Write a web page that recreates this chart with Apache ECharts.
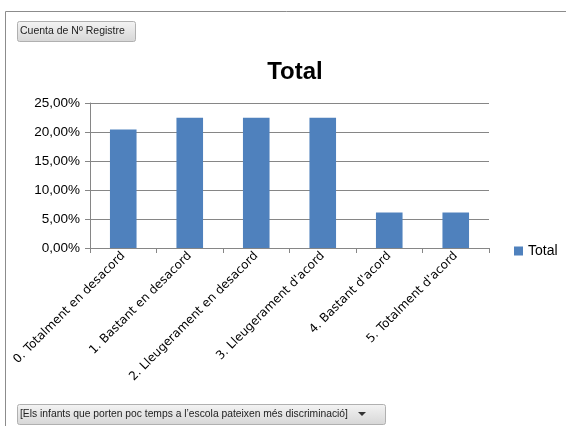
<!DOCTYPE html>
<html><head><meta charset="utf-8">
<script src="https://cdn.jsdelivr.net/npm/echarts@6/dist/echarts.min.js"></script>
<style>html,body{margin:0;padding:0;background:#fff}#c{width:566px;height:426px}</style>
</head><body><div id="c"></div>
<script>
const categories = ["0. Totalment en desacord","1. Bastant en desacord","2. Lleugerament en desacord","3. Lleugerament d'acord","4. Bastant d'acord","5. Totalment d'acord"];
const totalValues = [20.41, 22.45, 22.45, 22.45, 6.12, 6.12];
const yTicks = [0, 5, 10, 15, 20, 25];
const seriesName = "Total";
const titleText = "Total";
const fieldButton = "Cuenta de Nº Registre";
const filterButton = "[Els infants que porten poc temps a l’escola pateixen més discriminació]";

const chart = echarts.init(document.getElementById('c'), null, {renderer:'canvas'});
const btnGrad = new echarts.graphic.LinearGradient(0,0,0,1,[{offset:0,color:'#f4f4f4'},{offset:1,color:'#d6d6d6'}]);
const narrow = "'Liberation Sans Narrow', 'Liberation Sans'";
chart.setOption({
  animation:false,
  textStyle:{fontFamily:'Liberation Sans'},
  title:{text:titleText,left:290,textAlign:'center',top:55,textStyle:{fontSize:24,fontWeight:'bold',color:'#000',fontFamily:'Liberation Sans'}},
  legend:{data:[seriesName],left:509,top:239,itemWidth:9,itemHeight:9,itemGap:4,textStyle:{fontSize:14,color:'#000'},icon:'rect'},
  grid:{left:90,right:77,top:103,bottom:178,containLabel:false},
  xAxis:{type:'category',data:categories,
    axisLine:{lineStyle:{color:'#868686'}},
    axisTick:{show:true,length:5,lineStyle:{color:'#868686'}},
    axisLabel:{rotate:45,fontSize:12,color:'#000',margin:6,interval:0,fontFamily:'DejaVu Sans'}},
  yAxis:{type:'value',min:yTicks[0],max:yTicks[yTicks.length-1],interval:5,
    axisLine:{show:true,lineStyle:{color:'#868686'}},
    axisTick:{show:true,length:5,lineStyle:{color:'#868686'}},
    splitLine:{lineStyle:{color:'#868686'}},
    axisLabel:{fontSize:13.5,color:'#000',margin:10,formatter:v=>v.toFixed(2).replace('.',',')+'%'}},
  series:[{name:seriesName,type:'bar',data:totalValues,barWidth:'40%',itemStyle:{color:'#4f81bd'}}],
  graphic:[
    {type:'rect',shape:{x:5.5,y:11.5,width:570,height:430},style:{fill:'none',stroke:'#8c8c8c',lineWidth:1},z:-1},
    {type:'rect',shape:{x:17.5,y:21.5,width:118,height:20,r:2},style:{fill:btnGrad,stroke:'#b0b0b0',lineWidth:1}},
    {type:'text',x:20,y:31,style:{text:fieldButton,fontSize:10.5,fill:'#222',verticalAlign:'middle',fontFamily:narrow}},
    {type:'rect',shape:{x:17.5,y:404.5,width:368,height:20,r:2},style:{fill:btnGrad,stroke:'#b0b0b0',lineWidth:1}},
    {type:'text',x:20,y:414,style:{text:filterButton,fontSize:10.3,fill:'#222',verticalAlign:'middle',fontFamily:narrow}},
    {type:'polygon',shape:{points:[[358,412],[366,412],[362,416]]},style:{fill:'#333'}}
  ]
});
</script></body></html>
